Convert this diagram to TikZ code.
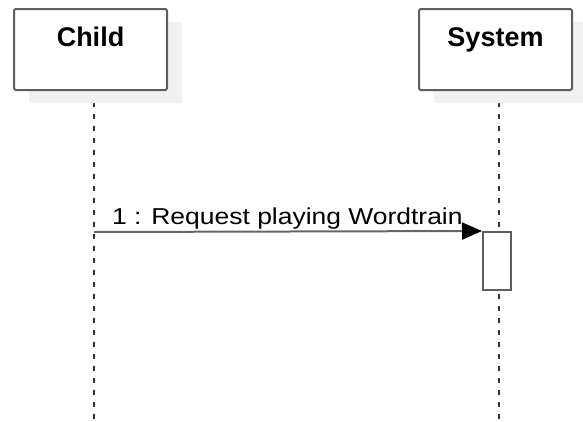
\documentclass[tikz,border=0pt]{standalone}
\usepackage{fontspec}
\setmainfont{Liberation Sans}
\usepackage{tikz}
\usetikzlibrary{arrows.meta,positioning,shadows}

\definecolor{boxgrey}{HTML}{5E5E5E}
\definecolor{linegrey}{HTML}{666666}
\definecolor{shadegrey}{HTML}{F1F1F1}

\begin{document}
\begin{tikzpicture}[x=1pt,y=-1pt,
			actor/.style={draw=boxgrey,line width=2pt,rounded corners=1.5pt,fill=white,inner sep=0,
				minimum width=153pt,minimum height=81pt,text height=20pt,text depth=27pt,
				font=\fontsize{27}{30}\selectfont\bfseries,
				drop shadow={shadow xshift=15pt,shadow yshift=-13pt,fill=shadegrey,opacity=1,draw=none}},
			lifeline/.style={draw=black!80,line width=1.8pt,dash pattern=on 5pt off 7pt},
			act/.style={draw=boxgrey,line width=2pt,fill=white,inner sep=0,minimum width=28pt,minimum height=58pt},
			msg/.style={draw=linegrey,line width=2pt,-{Triangle[length=20pt,width=17pt,color=black]}},
			msglabel/.style={anchor=base west,inner sep=0,font=\fontsize{23}{27}\selectfont}]
			\useasboundingbox (0,0) rectangle (583,421);
			\coordinate (childtop) at (94,90);
			\coordinate (childend) at (94,421);
			\coordinate (systop) at (499,90);
			\coordinate (sysend) at (499,421);
			\coordinate (m1) at (94,232);
			% lifelines
			\draw[lifeline] (childtop) to (childend);
			\draw[lifeline] (systop) to (sysend);
			% actors
			\node[actor] (child) at (90.5,49.5) {Child};
			\node[actor] (system) at (495.5,49.5) {System};
			% activation and message
			\node[act] (sysact) at (497,261) {};
			\draw[msg] (m1) to (sysact.north west);
			\node[msglabel] (m1label) at (112,224) {\scalebox{1.15}[1]{1 : Request playing Wordtrain}};
		\end{tikzpicture}
\end{document}
